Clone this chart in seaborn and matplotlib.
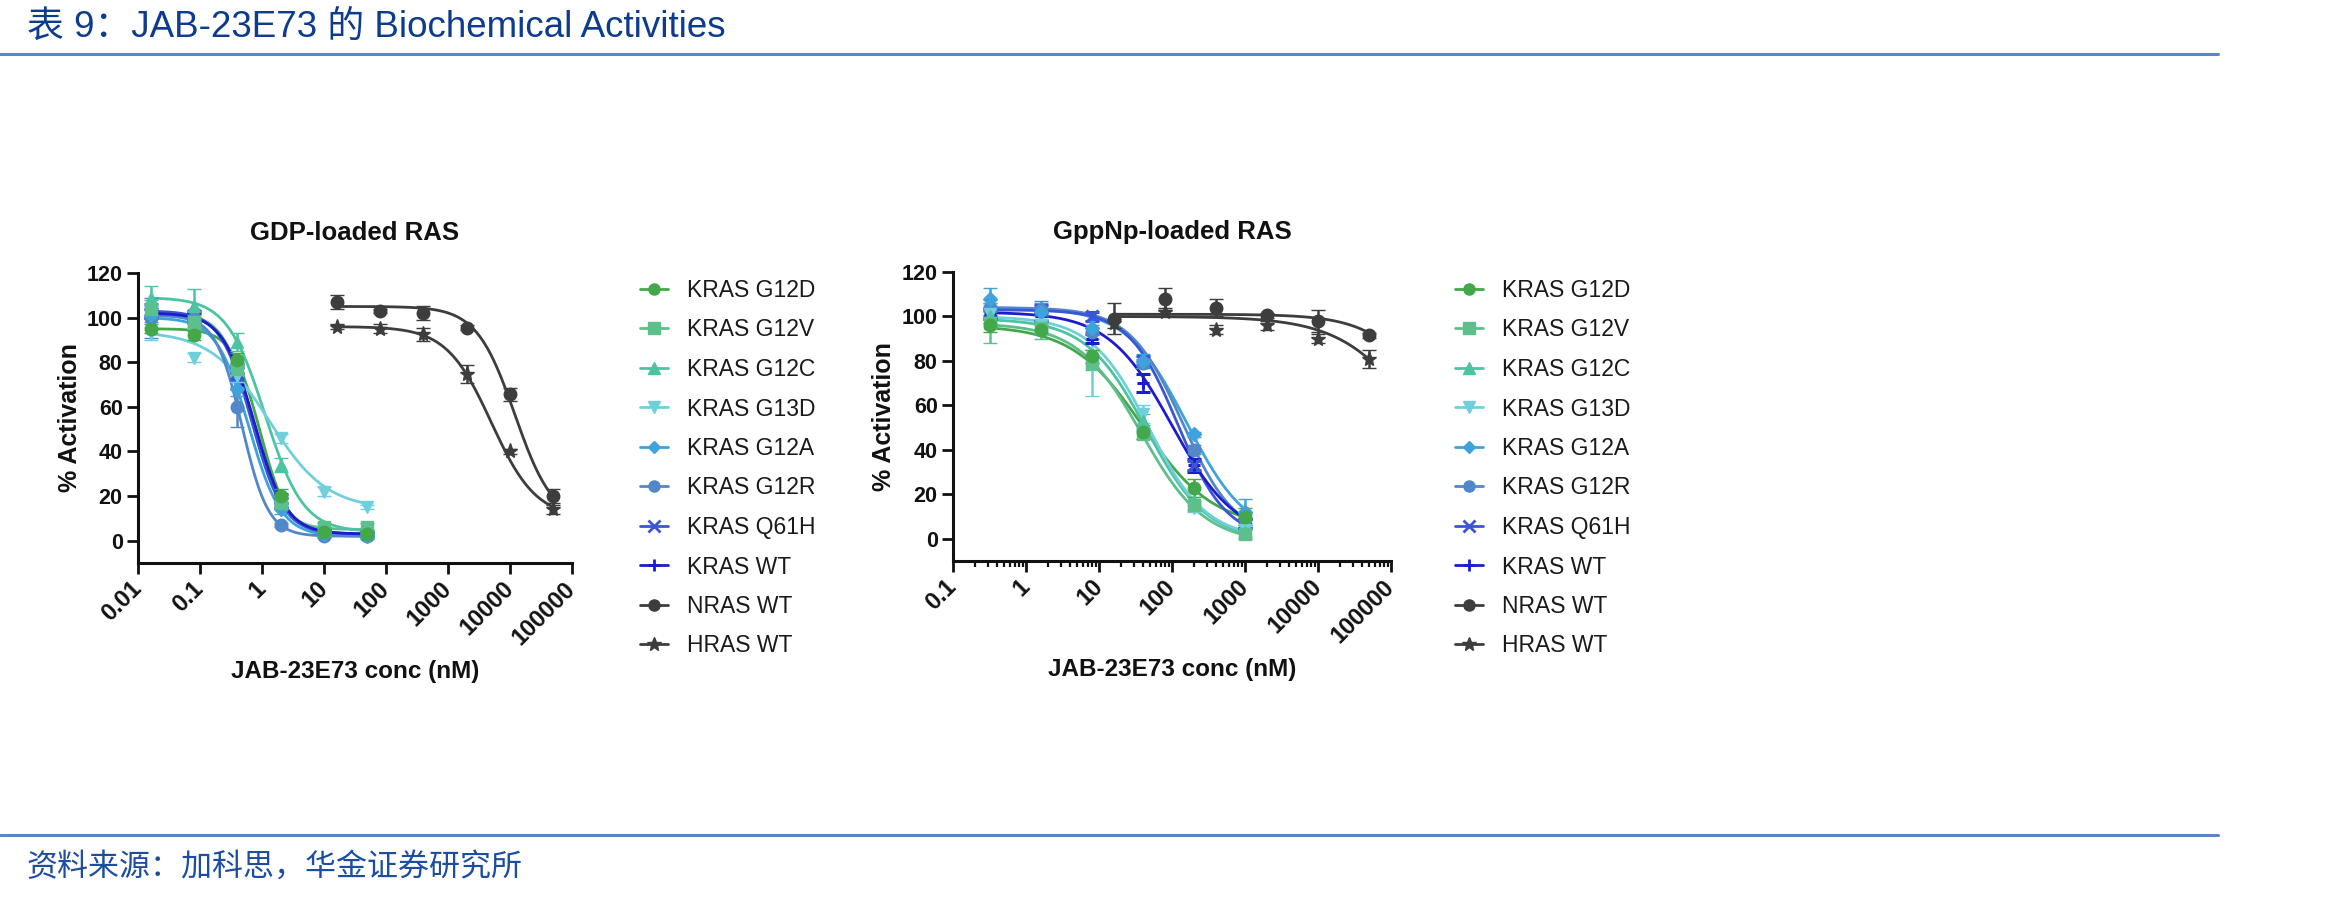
import numpy as np
import pandas as pd
import matplotlib
matplotlib.use("Agg")
import matplotlib.pyplot as plt
from matplotlib.lines import Line2D
from matplotlib.ticker import FixedLocator, FixedFormatter, LogLocator, NullFormatter
import seaborn as sns

# ---------------- data ----------------
series_names = ["KRAS G12D", "KRAS G12V", "KRAS G12C", "KRAS G13D", "KRAS G12A",
                "KRAS G12R", "KRAS Q61H", "KRAS WT", "NRAS WT", "HRAS WT"]
series_colors = ["#43a84a", "#5cbf8c", "#4cc4a2", "#6fd0dc", "#3ea3dc",
                 "#5287c8", "#3a55d6", "#1c1ccf", "#3d3d3d", "#3d3d3d"]
series_markers = ["o", "s", "^", "v", "D", "o", "x", "+", "o", "*"]

# GDP-loaded RAS
gdp_conc_kras = [0.016, 0.08, 0.4, 2, 10, 50]
gdp_conc_nh = [16, 80, 400, 2000, 10000, 50000]
gdp_g12d = [95, 92, 81, 20, 4, 3]
gdp_g12v = [104, 98, 77, 17, 6, 6]
gdp_g12c = [109, 105, 89, 34, 5, 4]
gdp_g13d = [93, 82, 74, 46, 22, 15]
gdp_g12a = [101, 98, 68, 14, 3, 2]
gdp_g12r = [100, 100, 60, 7, 2, 2]
gdp_q61h = [103, 101, 75, 17, 4, 3]
gdp_kwt = [102, 100, 77, 19, 4, 3]
gdp_nras = [107, 103, 102, 95.5, 65.6, 20]
gdp_hras = [96, 95, 92.5, 74.6, 40, 14]
gdp_err_g12d = [2, 2, 3, 3, 1, 1]
gdp_err_g12v = [4, 3, 3, 2, 2, 2]
gdp_err_g12c = [5, 8, 4, 3, 1, 1]
gdp_err_g13d = [3, 2, 3, 2, 2, 1]
gdp_err_g12a = [3, 2, 3, 2, 1, 1]
gdp_err_g12r = [9, 3, 9, 1, 1, 1]
gdp_err_q61h = [3, 2, 3, 2, 1, 1]
gdp_err_kwt = [2, 2, 2, 2, 1, 1]
gdp_err_nras = [3, 1, 3, 1, 3, 3]
gdp_err_hras = [1, 2, 3, 4, 1, 2]
# fitted 4PL parameters (top, bottom, IC50, hill)
gdp_fit_top = [95, 102, 109, 94, 100, 101, 103, 102, 105, 96]
gdp_fit_bottom = [3, 5, 4, 14, 2, 2, 3, 3, 8, 10]
gdp_fit_ic50 = [0.93, 0.70, 1.12, 1.29, 0.615, 0.475, 0.69, 0.76, 12000, 5000]
gdp_fit_hill = [1.94, 1.87, 1.41, 0.93, 1.67, 2.04, 1.71, 1.70, 1.4, 1.2]

# GppNp-loaded RAS
gpp_conc_kras = [0.32, 1.6, 8, 40, 200, 1000]
gpp_conc_nh = [16, 80, 400, 2000, 10000, 50000]
gpp_g12d = [96, 94, 82, 48, 23, 10]
gpp_g12v = [97, 95, 79, 47, 15, 2]
gpp_g12c = [100, 95, 82, 53, 17, 3]
gpp_g13d = [101, 96, 78, 56, 14, 4]
gpp_g12a = [108, 102, 95, 80, 47, 12]
gpp_g12r = [104, 103, 93, 79, 40, 9]
gpp_q61h = [102, 103, 100, 80, 33, 7]
gpp_kwt = [101, 100, 90, 70, 33, 7]
gpp_nras = [99, 108, 104, 100.5, 98, 91.5]
gpp_hras = [97, 102, 94, 96, 90, 81]
gpp_err_g12d = [3, 2, 3, 3, 4, 4]
gpp_err_g12v = [9, 5, 3, 2, 2, 2]
gpp_err_g12c = [3, 3, 3, 3, 2, 2]
gpp_err_g13d = [4, 3, 14, 4, 2, 2]
gpp_err_g12a = [5, 4, 3, 3, 1, 6]
gpp_err_g12r = [2, 4, 3, 2, 2, 2]
gpp_err_q61h = [2, 2, 2, 2, 2, 2]
gpp_err_kwt = [2, 2, 2, 4, 3, 2]
gpp_err_nras = [7, 5, 4, 1, 5, 1]
gpp_err_hras = [2, 2, 2, 2, 2, 4]
gpp_fit_top = [96, 97, 99, 100, 104, 104, 103, 102, 101, 100]
gpp_fit_bottom = [5, -2, -1, 0, 0, 0, 0, 0, 0, 0]
gpp_fit_ic50 = [40, 38, 45, 48, 160, 140, 120, 100, 550000, 300000]
gpp_fit_hill = [0.9, 1.0, 1.05, 1.1, 1.05, 1.2, 1.3, 1.0, 1.0, 0.8]

x_tick_values_gdp = [0.01, 0.1, 1, 10, 100, 1000, 10000, 100000]
x_tick_labels_gdp = ["0.01", "0.1", "1", "10", "100", "1000", "10000", "100000"]
x_tick_values_gpp = [0.1, 1, 10, 100, 1000, 10000, 100000]
x_tick_labels_gpp = ["0.1", "1", "10", "100", "1000", "10000", "100000"]
y_ticks = [0, 20, 40, 60, 80, 100, 120]

title_text = "表 9：JAB-23E73 的 Biochemical Activities"
source_text = "资料来源：加科思，华金证券研究所"
panel_titles = ["GDP-loaded RAS", "GppNp-loaded RAS"]
x_label = "JAB-23E73 conc (nM)"
y_label = "% Activation"

# ---------------- style ----------------
sns.set_theme(style="ticks")
plt.rcParams["font.family"] = ["Liberation Sans", "Noto Sans CJK SC", "DejaVu Sans"]

W, H = 2338, 900
fig = plt.figure(figsize=(W / 100, H / 100), dpi=100)
fig.patch.set_facecolor("white")


def four_pl(x, top, bottom, ic50, hill):
    x = np.asarray(x, dtype=float)
    return bottom + (top - bottom) / (1.0 + (x / ic50) ** hill)


def px_axes(x0, x1, ytop, ybot):
    return fig.add_axes([x0 / W, 1 - ybot / H, (x1 - x0) / W, (ybot - ytop) / H])


def draw_panel(ax, conc_kras, conc_nh, values, errors, tops, bottoms, ic50s, hills,
               xticks, xlabels, title):
    ax.set_xscale("log")
    order = list(range(7, -1, -1)) + [9, 8]
    for i in order:
        conc = conc_kras if i < 8 else conc_nh
        c = series_colors[i]
        xs = np.logspace(np.log10(conc[0]), np.log10(conc[-1]), 300)
        df = pd.DataFrame({"x": xs, "y": four_pl(xs, tops[i], bottoms[i], ic50s[i], hills[i])})
        sns.lineplot(data=df, x="x", y="y", color=c, lw=2.0, ax=ax, legend=False,
                     zorder=3 + i * 0.1 if i < 8 else 5)
        m = series_markers[i]
        ms = 9 if m not in ("D", "*") else (7 if m == "D" else 11)
        ax.errorbar(conc, values[i], yerr=errors[i], fmt=m, color=c, ms=ms,
                    mec=c, mew=2.2 if m in ("x", "+") else 1, capsize=5,
                    elinewidth=1.8, capthick=1.8, zorder=4 if i < 8 else 6)
    ax.set_xlim(xticks[0], xticks[-1])
    ax.set_ylim(-10, 120)
    ax.yaxis.set_major_locator(FixedLocator(y_ticks))
    ax.xaxis.set_major_locator(FixedLocator(xticks))
    ax.xaxis.set_major_formatter(FixedFormatter(xlabels))
    ax.xaxis.set_minor_locator(LogLocator(base=10, subs=np.arange(2, 10)))
    ax.xaxis.set_minor_formatter(NullFormatter())
    sns.despine(ax=ax)
    for s in ("left", "bottom"):
        ax.spines[s].set_linewidth(2.2)
        ax.spines[s].set_color("#111111")
    ax.tick_params(axis="both", which="major", length=8, width=2,
                   color="#111111", labelcolor="#111111")
    ax.tick_params(axis="y", which="major", labelsize=15.5, pad=3)
    ax.tick_params(axis="x", which="major", labelsize=17, pad=8)
    ax.tick_params(axis="x", which="minor", length=4.5, width=1.6, color="#111111")
    for lbl in ax.get_yticklabels():
        lbl.set_fontweight("bold")
    for lbl in ax.get_xticklabels():
        lbl.set_fontweight("bold")
        lbl.set_rotation(45)
        lbl.set_ha("right")
        lbl.set_va("center")
        lbl.set_rotation_mode("anchor")
    ax.set_title(title, fontsize=18.5, fontweight="bold", pad=24, color="#111111")
    ax.set_xlabel(x_label, fontsize=17.5, fontweight="bold", color="#111111")
    ax.set_ylabel(y_label, fontsize=18, fontweight="bold", color="#111111")
    ax.xaxis.set_label_coords(0.5, -0.375)
    ax.xaxis.label.set_va("center")
    ax.yaxis.set_label_coords(-0.157, 0.5)
    ax.yaxis.label.set_va("center")
    ax.set_facecolor("none")


def legend_for(ax, x_left, y_top):
    handles = []
    for i, name in enumerate(series_names):
        m = series_markers[i]
        ms = 8 if m not in ("D", "*") else (6.5 if m == "D" else 10)
        handles.append(Line2D([0], [0], color=series_colors[i], lw=2.0, marker=m, ms=ms,
                              mec=series_colors[i], mew=2 if m in ("x", "+") else 1,
                              label=name))
    leg = ax.legend(handles=handles, loc="upper left",
                    bbox_to_anchor=(x_left / W, 1 - y_top / H),
                    bbox_transform=fig.transFigure, frameon=False, fontsize=16.5,
                    labelspacing=0.72, handlelength=1.2, handletextpad=0.85,
                    borderpad=0, borderaxespad=0)
    for t in leg.get_texts():
        t.set_color("#1a1a1a")


ax1 = px_axes(138, 572, 273, 563)
draw_panel(ax1, gdp_conc_kras, gdp_conc_nh,
           [gdp_g12d, gdp_g12v, gdp_g12c, gdp_g13d, gdp_g12a, gdp_g12r, gdp_q61h, gdp_kwt, gdp_nras, gdp_hras],
           [gdp_err_g12d, gdp_err_g12v, gdp_err_g12c, gdp_err_g13d, gdp_err_g12a, gdp_err_g12r,
            gdp_err_q61h, gdp_err_kwt, gdp_err_nras, gdp_err_hras],
           gdp_fit_top, gdp_fit_bottom, gdp_fit_ic50, gdp_fit_hill,
           x_tick_values_gdp, x_tick_labels_gdp, panel_titles[0])
legend_for(ax1, 640, 279)

ax2 = px_axes(953, 1391, 272, 561)
draw_panel(ax2, gpp_conc_kras, gpp_conc_nh,
           [gpp_g12d, gpp_g12v, gpp_g12c, gpp_g13d, gpp_g12a, gpp_g12r, gpp_q61h, gpp_kwt, gpp_nras, gpp_hras],
           [gpp_err_g12d, gpp_err_g12v, gpp_err_g12c, gpp_err_g13d, gpp_err_g12a, gpp_err_g12r,
            gpp_err_q61h, gpp_err_kwt, gpp_err_nras, gpp_err_hras],
           gpp_fit_top, gpp_fit_bottom, gpp_fit_ic50, gpp_fit_hill,
           x_tick_values_gpp, x_tick_labels_gpp, panel_titles[1])
legend_for(ax2, 1455, 279)

# ---------------- header / footer ----------------
fig.text(27 / W, 1 - 27 / H, title_text, fontsize=26.5, color="#0d3b8e", ha="left", va="center",
         family=["Liberation Sans", "Noto Sans CJK SC"])
fig.add_artist(Line2D([0, 2218 / W], [1 - 54 / H] * 2, color="#5a86c4", lw=2.2,
                      transform=fig.transFigure))
fig.add_artist(Line2D([0, 2218 / W], [1 - 835 / H] * 2, color="#5a86c4", lw=2.2,
                      transform=fig.transFigure))
fig.text(27 / W, 1 - 867 / H, source_text, fontsize=22.3, color="#1c4da1", ha="left", va="center",
         family=["Noto Sans CJK SC", "DejaVu Sans"], style="italic")

fig.savefig("out.png", dpi=100, facecolor="white")
